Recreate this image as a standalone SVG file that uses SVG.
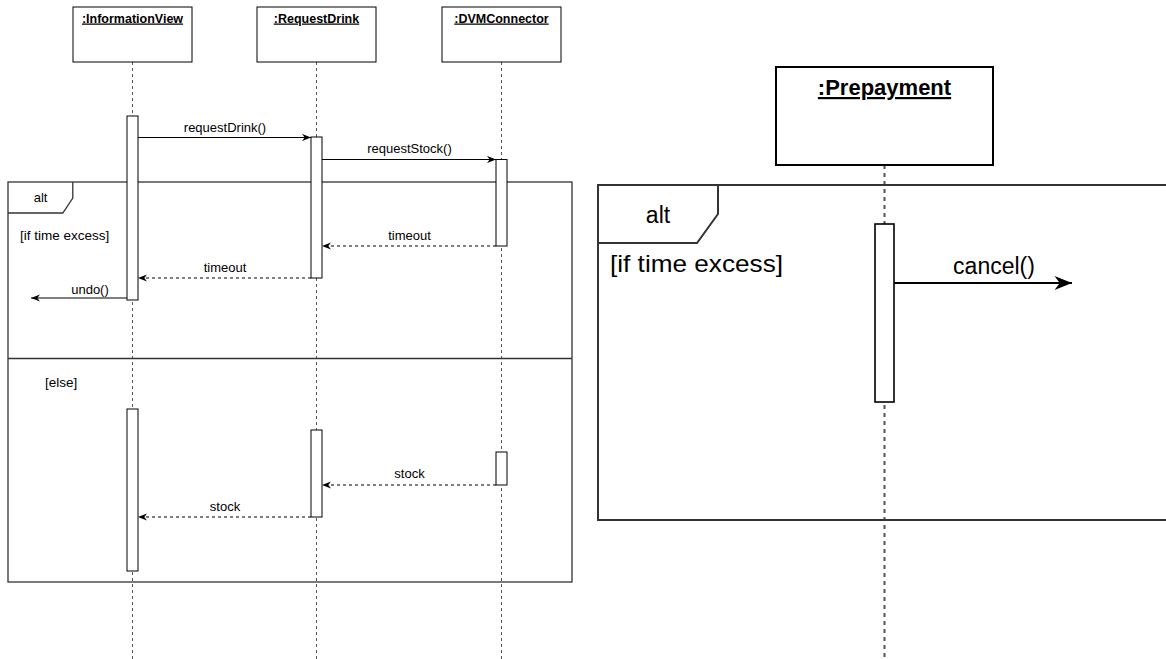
<svg xmlns="http://www.w3.org/2000/svg" width="1166" height="659" viewBox="0 0 1166 659">
<defs>
<style>
.box{fill:#fff;stroke:#000;stroke-width:1}
.box2{fill:#fff;stroke:#000;stroke-width:2}
.bar{fill:#fff;stroke:#000;stroke-width:1}
.bar2{fill:#fff;stroke:#000;stroke-width:1.6}
.life{stroke:#555;stroke-width:1;stroke-dasharray:3 3;fill:none}
.life2{stroke:#555;stroke-width:2;stroke-dasharray:4 4;fill:none}
.frame{fill:none;stroke:#333;stroke-width:1.3}
.frame2{fill:none;stroke:#333;stroke-width:2}
.msg{stroke:#000;stroke-width:1;fill:none;marker-end:url(#arr)}
.ret{stroke:#000;stroke-width:1;fill:none;stroke-dasharray:3 3;marker-end:url(#arr)}
.msg2{stroke:#000;stroke-width:2;fill:none;marker-end:url(#arr2)}
text{font-family:"Liberation Sans",Arial,sans-serif;fill:#000}
.t{font-size:13px;text-anchor:middle}
.g{font-size:13.5px}
.title{font-size:12.5px;font-weight:bold;text-anchor:middle;text-decoration:underline}
.title2{font-size:22px;font-weight:bold;text-anchor:middle;text-decoration:underline}
.t2{font-size:23px}
.g2{font-size:24.5px}
</style>
<marker id="arr" viewBox="0 0 10 8" refX="10" refY="4" markerWidth="9" markerHeight="7.2" markerUnits="userSpaceOnUse" orient="auto">
<path d="M0,0 L10,4 L0,8 L3,4 z" fill="#000"/>
</marker>
<marker id="arr2" viewBox="0 0 10 8" refX="10" refY="4" markerWidth="18" markerHeight="14" markerUnits="userSpaceOnUse" orient="auto">
<path d="M0,0 L10,4 L0,8 L3,4 z" fill="#000"/>
</marker>
</defs>

<g id="lifelines">
<line class="life" x1="132.5" y1="62" x2="132.5" y2="659"/>
<line class="life" x1="316.5" y1="62" x2="316.5" y2="659"/>
<line class="life" x1="501.5" y1="62" x2="501.5" y2="659"/>
<line class="life2" x1="884.5" y1="165" x2="884.5" y2="659"/>
</g>

<g id="InformationView">
<rect class="box" x="73" y="7" width="119" height="55"/>
<text class="title" x="132.5" y="22.5">:InformationView</text>
</g>
<g id="RequestDrink">
<rect class="box" x="257" y="7" width="119" height="55"/>
<text class="title" x="316.5" y="22.5">:RequestDrink</text>
</g>
<g id="DVMConnector">
<rect class="box" x="442" y="7" width="119" height="55"/>
<text class="title" x="501.5" y="22.5">:DVMConnector</text>
</g>

<g id="alt-frame-left">
<rect class="frame" x="8" y="182" width="564" height="400"/>
<path class="frame" d="M8,213 L62.8,213 L72.8,198 L72.8,182"/>
<line class="frame" x1="8" y1="358.5" x2="572" y2="358.5"/>
<text class="t" x="40.6" y="202">alt</text>
<text class="g" x="20" y="240">[if time excess]</text>
<text class="g" x="45" y="387">[else]</text>
</g>

<g id="activations-left">
<rect class="bar" x="127" y="116" width="11" height="184"/>
<rect class="bar" x="311" y="137" width="11" height="141"/>
<rect class="bar" x="496" y="159.5" width="11" height="86.5"/>
<rect class="bar" x="127" y="409" width="11" height="162"/>
<rect class="bar" x="311" y="430" width="11" height="87"/>
<rect class="bar" x="496" y="452" width="11" height="33"/>
</g>

<g id="connectors">
<line class="msg" x1="138" y1="137.5" x2="311" y2="137.5"/>
<line class="msg" x1="322" y1="159.5" x2="496" y2="159.5"/>
<line class="ret" x1="496" y1="246" x2="322" y2="246"/>
<line class="ret" x1="311" y1="278" x2="138" y2="278"/>
<line class="msg" x1="127" y1="298" x2="31" y2="298"/>
<line class="ret" x1="496" y1="485" x2="322" y2="485"/>
<line class="ret" x1="311" y1="517" x2="138" y2="517"/>
<line class="msg2" x1="894" y1="283" x2="1072" y2="283"/>
</g>

<g id="labels">
<text class="t" x="225" y="132">requestDrink()</text>
<text class="t" x="409.5" y="153">requestStock()</text>
<text class="t" x="409.5" y="240">timeout</text>
<text class="t" x="225" y="272">timeout</text>
<text class="t" x="90" y="294">undo()</text>
<text class="t" x="409.5" y="478">stock</text>
<text class="t" x="225" y="511">stock</text>
</g>

<g id="Prepayment">
<rect class="box2" x="776" y="67" width="217" height="98"/>
<text class="title2" x="884.5" y="95">:Prepayment</text>
</g>

<g id="alt-frame-right">
<path class="frame2" d="M1170,185 L598,185 L598,520 L1170,520"/>
<path class="frame2" d="M598,243 L697,243 L718,214 L718,185"/>
<text class="t2" x="658" y="223" text-anchor="middle">alt</text>
<text class="g2" x="610" y="272" textLength="173" lengthAdjust="spacingAndGlyphs">[if time excess]</text>
</g>

<g id="activation-right">
<rect class="bar2" x="875" y="224" width="19" height="178"/>
<text class="t2" x="994" y="274" text-anchor="middle">cancel()</text>
</g>
</svg>
